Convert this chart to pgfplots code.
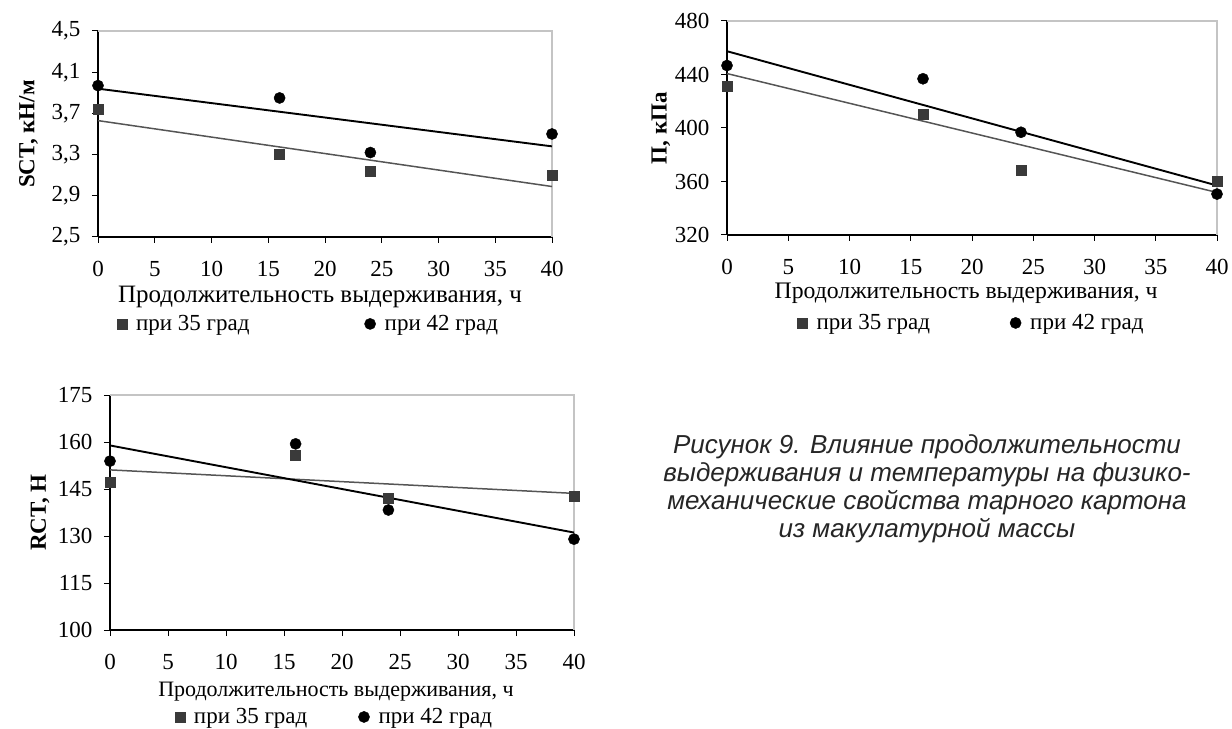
\documentclass[border=0pt]{standalone}
\usepackage{fontspec}
\setmainfont{Liberation Serif}
\newfontfamily\capfont{Liberation Sans}
\usepackage{pgfplots}
\pgfplotsset{compat=1.18}
\definecolor{sqc}{HTML}{3A3A3A}
\definecolor{sqline}{HTML}{555555}
\definecolor{framec}{HTML}{C4C4C4}

\pgfplotsset{
 myax/.style={
  scale only axis,
  axis x line*=bottom, axis y line*=left,
  axis line style={black, line width=1.3bp},
  tick align=outside, major tick length=6bp,
  tick style={black, line width=1bp},
  xmin=0,xmax=40, xtick={0,5,...,40},
  /pgf/number format/assume math mode=true,
  ticklabel style={font=\fontsize{23bp}{26bp}\selectfont},
  xticklabel style={yshift=-15bp},
  yticklabel style={xshift=-8bp},
  xlabel style={anchor=center},
  ylabel style={font=\fontsize{23bp}{26bp}\selectfont\bfseries, anchor=center},
  legend style={draw=none, fill=none, font=\fontsize{23bp}{26bp}\selectfont, anchor=west, inner sep=0pt, outer sep=0pt,
    /tikz/every odd column/.append style={column sep=7bp}},
  legend columns=2,
  legend cell align=left,
  legend image code/.code={\draw[##1] plot coordinates {(0bp,0bp)};},
  clip=false,
 },
 sq/.style={only marks, mark=square*, mark size=5bp, mark options={fill=sqc, draw=sqc, line width=0.6bp}},
 ci/.style={only marks, mark=*, mark size=5.6bp, mark options={fill=black, draw=black, line width=0.4bp}},
 sqt/.style={sqline, line width=1.5bp, no marks, forget plot},
 cit/.style={black, line width=1.9bp, no marks, forget plot},
}

\begin{document}
\begin{tikzpicture}
\path[use as bounding box] (0bp,0bp) rectangle (1232bp,729bp);

% ---------- Plot 1: SCT ----------
\begin{axis}[myax,
  at={(98bp,492bp)}, anchor=south west, width=454bp, height=206bp,
  ymin=2.5, ymax=4.5, ytick={2.5,2.9,3.3,3.7,4.1,4.5},
  yticklabel style={/pgf/number format/.cd, fixed, fixed zerofill, precision=1, use comma},
  xlabel={Продолжительность выдерживания, ч},
  xlabel style={at={(axis description cs:0.489,-0.291)}, font=\fontsize{25bp}{28bp}\selectfont},
  ylabel={SCT, кН/м},
  ylabel style={at={(axis description cs:-0.153,0.5)}},
  legend style={at={(axis description cs:0.042,-0.422)}, /tikz/every even column/.append style={column sep=113bp}},
]
\draw[framec, line width=1.5bp] (rel axis cs:0,1) -- (rel axis cs:1,1) -- (rel axis cs:1,0);
\addplot[sqt] coordinates {(0,3.63) (40,2.99)};
\addplot[cit] coordinates {(0,3.94) (40,3.38)};
\addplot[sq] coordinates {(0,3.74) (16,3.30) (24,3.14) (40,3.10)};
\addplot[ci] coordinates {(0,3.97) (16,3.85) (24,3.32) (40,3.50)};
\legend{при 35 град, при 42 град}
\end{axis}

% ---------- Plot 2: П ----------
\begin{axis}[myax,
  at={(727bp,494bp)}, anchor=south west, width=490bp, height=214bp,
  ymin=320, ymax=480, ytick={320,360,...,480},
  xlabel={Продолжительность выдерживания, ч},
  xlabel style={at={(axis description cs:0.488,-0.271)}, font=\fontsize{23.7bp}{27bp}\selectfont},
  ylabel={П, кПа},
  ylabel style={at={(axis description cs:-0.135,0.5)}},
  legend style={at={(axis description cs:0.144,-0.411)}, /tikz/every even column/.append style={column sep=78bp}},
]
\draw[framec, line width=1.5bp] (rel axis cs:0,1) -- (rel axis cs:1,1) -- (rel axis cs:1,0);
\addplot[sqt] coordinates {(0,440.7) (40,351.8)};
\addplot[cit] coordinates {(0,457.4) (40,357.0)};
\addplot[sq] coordinates {(0,431.3) (16,410.2) (24,368.0) (40,360.0)};
\addplot[ci] coordinates {(0,446.7) (16,436.8) (24,396.8) (40,350.6)};
\legend{при 35 град, при 42 град}
\end{axis}

% ---------- Plot 3: RCT ----------
\begin{axis}[myax,
  at={(110bp,99bp)}, anchor=south west, width=464bp, height=235bp,
  ymin=100, ymax=175, ytick={100,115,...,175},
  xlabel={Продолжительность выдерживания, ч},
  xlabel style={at={(axis description cs:0.487,-0.263)}, font=\fontsize{22bp}{25bp}\selectfont},
  ylabel={RCT, Н},
  ylabel style={at={(axis description cs:-0.151,0.5)}},
  legend style={at={(axis description cs:0.140,-0.370)}, /tikz/every even column/.append style={column sep=49bp}},
]
\draw[framec, line width=1.5bp] (rel axis cs:0,1) -- (rel axis cs:1,1) -- (rel axis cs:1,0);
\addplot[sqt] coordinates {(0,151.1) (40,143.6)};
\addplot[cit] coordinates {(0,158.9) (40,131.1)};
\addplot[sq] coordinates {(0,147.1) (16,155.9) (24,142.0) (40,142.8)};
\addplot[ci] coordinates {(0,153.9) (16,159.4) (24,138.3) (40,129.0)};
\legend{при 35 град, при 42 град}
\end{axis}

% ---------- Caption ----------
\node[align=center, font=\capfont\itshape\fontsize{26bp}{28bp}\selectfont, color=black!85] at (927bp,240bp)
 {Рисунок 9. Влияние продолжительности\\выдерживания и температуры на физико-\\механические свойства тарного картона\\из макулатурной массы};
\end{tikzpicture}
\end{document}
